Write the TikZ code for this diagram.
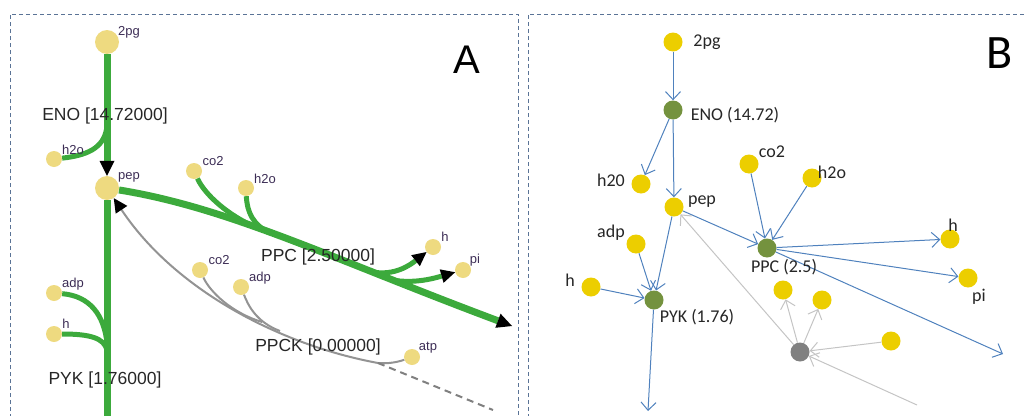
\documentclass[tikz,border=0pt]{standalone}
\usepackage{fontspec}
\setmainfont{Liberation Sans}
\newfontfamily\carlito{Carlito}
\usetikzlibrary{
	arrows.meta
}
\definecolor{FluxGreen}{RGB}{60,170,60}
\definecolor{MetPale}{RGB}{238,218,128}
\definecolor{MetGold}{RGB}{236,206,0}
\definecolor{RxnOlive}{RGB}{116,146,62}
\definecolor{RxnGrey}{RGB}{128,128,128}
\definecolor{EdgeBlue}{RGB}{79,129,189}
\definecolor{EdgeGrey}{RGB}{196,196,196}
\definecolor{FrameBlue}{RGB}{90,115,150}
\definecolor{LabelInk}{RGB}{60,45,85}

\begin{document}
\begin{tikzpicture}[
	x=1pt, y=-1pt,
	metA/.style={circle, fill=MetPale, inner sep=0pt, minimum size=16pt},
	bigmetA/.style={metA, minimum size=24pt},
	metB/.style={circle, fill=MetGold, inner sep=0pt, minimum size=19pt},
	rxnB/.style={metB, fill=RxnOlive},
	offrxnB/.style={metB, fill=RxnGrey},
	labA/.style={font=\fontsize{13}{15}\selectfont, text=LabelInk, inner sep=0pt},
	rxnlabA/.style={font=\fontsize{17.5}{20}\selectfont, text=black!85, inner sep=0pt},
	labB/.style={font=\carlito\fontsize{18}{20}\selectfont, text=black!85, inner sep=0pt},
	flux/.style={draw=FluxGreen, line width=7pt},
	sideflux/.style={draw=FluxGreen, line width=5pt},
	offflux/.style={draw=gray!85, line width=2pt},
	headA/.style={-{Triangle[length=15pt,width=15pt,line width=0pt,color=black]}},
	smallheadA/.style={-{Triangle[length=14pt,width=14pt,line width=0pt,color=black]}},
	flowB/.style={draw=EdgeBlue, line width=1pt, -{Straight Barb[length=8pt,width=15pt]}},
	offflowB/.style={flowB, draw=EdgeGrey},
	panelframe/.style={draw=FrameBlue, line width=0.8pt, dash pattern=on 4pt off 3pt}
	]
	\useasboundingbox (0,0) rectangle (1027,415);
	
	% panel frames
	\draw[panelframe] (10,418) -- (10,14) -- (518,14) -- (518,418);
	\draw[panelframe] (528,418) -- (528,14) -- (1030,14);
	
	% ---- A: flux map ----
	\node[bigmetA] (a2pg) at (107,42) {};
	\node[bigmetA] (apep) at (107,188) {};
	\node[metA] (ah2o) at (54,159) {};
	\node[metA] (aadp) at (54,293) {};
	\node[metA] (ah) at (54,334) {};
	\node[metA] (aco2) at (194,171) {};
	\node[metA] (ah2oB) at (246,188) {};
	\node[metA] (ahB) at (433,247) {};
	\node[metA] (api) at (463,270) {};
	\node[metA] (apckco2) at (200,270) {};
	\node[metA] (apckadp) at (241,287) {};
	\node[metA] (apckatp) at (412,357) {};
	
	\coordinate (enoJoin) at (107,126);
	\coordinate (pykJoinA) at (107,343);
	\coordinate (pykJoinH) at (107,350);
	\coordinate (pykOut) at (107,416);
	\coordinate (ppcJoinC) at (255,227);
	\coordinate (ppcJoinW) at (270,233);
	\coordinate (ppcSplitH) at (372,272);
	\coordinate (ppcSplitP) at (392,280);
	\coordinate (ppcOut) at (512,326);
	\coordinate (ppckJoin) at (378,363);
	\coordinate (ppckJoinC) at (262,322);
	\coordinate (ppckJoinA) at (280,331);
	\coordinate (ppckOut) at (493,410);
	
	% ENO and PYK
	\draw[flux, headA] (a2pg) -- (apep);
	\draw[sideflux] (ah2o) .. controls (92,155) and (105,145) .. (enoJoin);
	\draw[flux] (apep) -- (pykOut);
	\draw[sideflux] (aadp) .. controls (90,296) and (104,315) .. (pykJoinA);
	\draw[sideflux] (ah) .. controls (90,334) and (104,338) .. (pykJoinH);
	
	% PPC
	\draw[flux, headA] (apep) .. controls (230,208) and (330,258) .. (ppcOut);
	\draw[sideflux] (aco2) .. controls (205,195) and (228,215) .. (ppcJoinC);
	\draw[sideflux] (ah2oB) .. controls (247,212) and (253,225) .. (ppcJoinW);
	\draw[sideflux, smallheadA] (ppcSplitH) .. controls (395,276) and (410,265) .. (ahB);
	\draw[sideflux, smallheadA] (ppcSplitP) .. controls (415,284) and (435,278) .. (api);
	
	% PPCK (no flux)
	\draw[offflux, smallheadA] (ppckJoin) .. controls (280,345) and (175,290) .. (apep);
	\draw[offflux] (apckco2) .. controls (210,292) and (232,313) .. (ppckJoinC);
	\draw[offflux] (apckadp) .. controls (248,305) and (256,322) .. (ppckJoinA);
	\draw[offflux] (apckatp) .. controls (398,362) and (388,364) .. (ppckJoin);
	\draw[offflux, draw=gray, dash pattern=on 7pt off 5pt] (ppckJoin) -- (ppckOut);
	
	\node[labA] (a2pgLbl) at (129,32) {2pg};
	\node[labA] (apepLbl) at (129,177) {pep};
	\node[labA] (ah2oLbl) at (73,150) {h2o};
	\node[labA] (aadpLbl) at (73,284) {adp};
	\node[labA] (ahLbl) at (66,324) {h};
	\node[labA] (aco2Lbl) at (213,161) {co2};
	\node[labA] (ah2oBLbl) at (265,179) {h2o};
	\node[labA] (ahBLbl) at (445,237) {h};
	\node[labA] (apiLbl) at (475,260) {pi};
	\node[labA] (apckco2Lbl) at (219,260) {co2};
	\node[labA] (apckadpLbl) at (260,278) {adp};
	\node[labA] (apckatpLbl) at (428,348) {atp};
	
	\node[rxnlabA] (aenoLbl) at (105,116) {ENO [14.72000]};
	\node[rxnlabA] (apykLbl) at (105,380) {PYK [1.76000]};
	\node[rxnlabA] (appcLbl) at (318,257) {PPC [2.50000]};
	\node[rxnlabA] (appckLbl) at (318,347) {PPCK [0.00000]};
	\node[font=\fontsize{40}{44}\selectfont, inner sep=0pt] (panelA) at (467,60) {A};
	
	% ---- B: network graph ----
	\node[metB] (b2pg) at (673,42) {};
	\node[rxnB] (beno) at (673,110) {};
	\node[metB] (bh2o) at (641,184) {};
	\node[metB] (bpep) at (674,207) {};
	\node[metB] (bco2) at (749,164) {};
	\node[metB] (bh2oB) at (812,178) {};
	\node[rxnB] (bppc) at (767,248) {};
	\node[metB] (bh) at (950,239) {};
	\node[metB] (bpi) at (968,278) {};
	\node[metB] (badp) at (636,244) {};
	\node[metB] (bhB) at (591,287) {};
	\node[rxnB] (bpyk) at (654,300) {};
	\node[offrxnB] (bppck) at (800,352) {};
	\node[metB] (bpckco2) at (783,290) {};
	\node[metB] (bpckadp) at (822,300) {};
	\node[metB] (bpckatp) at (891,341) {};
	
	\coordinate (bppcOut) at (1003,354);
	\coordinate (bpykOut) at (648,411);
	\coordinate (bppckIn) at (917,405);
	
	\draw[flowB] (b2pg) -- (beno);
	\draw[flowB] (beno) -- (bh2o);
	\draw[flowB] (beno) -- (bpep);
	\draw[flowB] (bpep) -- (bppc);
	\draw[flowB] (bco2) -- (bppc);
	\draw[flowB] (bh2oB) -- (bppc);
	\draw[flowB] (bppc) -- (bh);
	\draw[flowB] (bppc) -- (bpi);
	\draw[flowB] (bppc) -- (bppcOut);
	\draw[flowB] (bpep) -- (bpyk);
	\draw[flowB] (badp) -- (bpyk);
	\draw[flowB] (bhB) -- (bpyk);
	\draw[flowB] (bpyk) -- (bpykOut);
	
	\draw[offflowB] (bppck) -- (bpep);
	\draw[offflowB] (bppck) -- (bpckco2);
	\draw[offflowB] (bppck) -- (bpckadp);
	\draw[offflowB] (bpckatp) -- (bppck);
	\draw[offflowB] (bppckIn) -- (bppck);
	
	\node[labB] (b2pgLbl) at (707,42) {2pg};
	\node[labB] (benoLbl) at (735,115) {ENO (14.72)};
	\node[labB] (bh2oLbl) at (611,180) {h20};
	\node[labB] (bpepLbl) at (702,202) {pep};
	\node[labB] (bco2Lbl) at (772,152) {co2};
	\node[labB] (bh2oBLbl) at (832,172) {h2o};
	\node[labB] (bhLbl) at (953,225) {h};
	\node[labB] (bppcLbl) at (784,267) {PPC (2.5)};
	\node[labB] (bpiLbl) at (979,297) {pi};
	\node[labB] (badpLbl) at (611,233) {adp};
	\node[labB] (bhBLbl) at (570,280) {h};
	\node[labB] (bpykLbl) at (697,317) {PYK (1.76)};
	\node[font=\carlito\fontsize{48}{52}\selectfont, inner sep=0pt] (panelB) at (1000,53) {B};
	
\end{tikzpicture}
\end{document}
